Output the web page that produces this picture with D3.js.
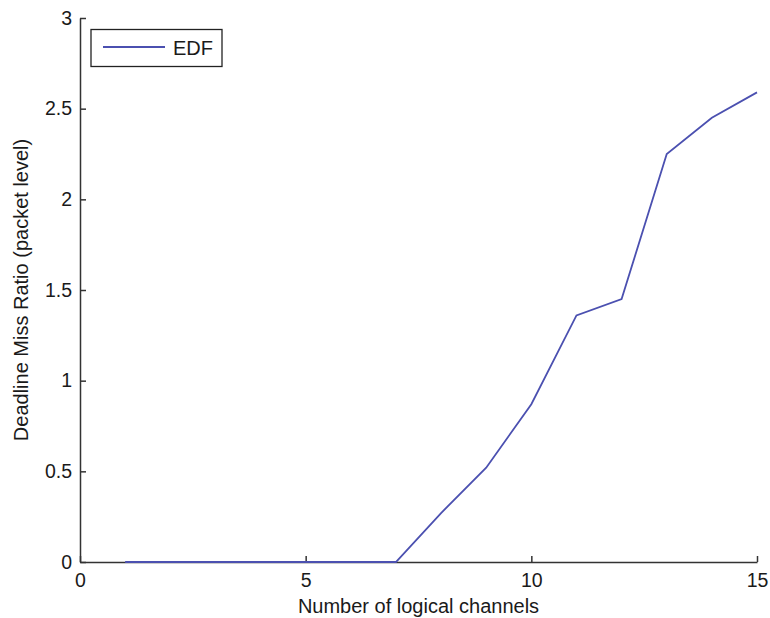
<!DOCTYPE html>
<html>
<head>
<meta charset="utf-8">
<script src="https://cdn.jsdelivr.net/npm/d3@7/dist/d3.min.js"></script>
<style>
  body { margin: 0; background: #fff; }
  svg text { font-family: "Liberation Sans", Arial, sans-serif; fill: #1a1a1a; }
</style>
</head>
<body>
<div class="visHolder"></div>
<script>
var channels = [1, 2, 3, 4, 5, 6, 7, 8, 9, 10, 11, 12, 13, 14, 15];
var missRatio = [0, 0, 0, 0, 0, 0, 0, 0.27, 0.52, 0.87, 1.36, 1.45, 2.25, 2.45, 2.59];
var xTicks = [0, 5, 10, 15];
var yTicks = [0, 0.5, 1, 1.5, 2, 2.5, 3];
var seriesName = "EDF";

var width = 770,
    height = 618,
    plotLeft = 80,
    plotRight = 757,
    plotTop = 18,
    plotBottom = 562;

var svg = d3.select(".visHolder")
    .append("svg")
    .attr("width", width)
    .attr("height", height);

var xScale = d3.scaleLinear().domain([0, 15]).range([plotLeft, plotRight]);
var yScale = d3.scaleLinear().domain([0, 3]).range([plotBottom, plotTop]);

var xAxis = d3.axisBottom(xScale)
    .tickValues(xTicks)
    .tickFormat(d3.format("d"))
    .tickSizeInner(-6)
    .tickSizeOuter(0)
    .tickPadding(14);

var yAxis = d3.axisLeft(yScale)
    .tickValues(yTicks)
    .tickFormat(function (d) { return String(d); })
    .tickSizeInner(-6)
    .tickSizeOuter(0)
    .tickPadding(14);

var gx = svg.append("g")
    .attr("transform", "translate(0," + plotBottom + ")")
    .call(xAxis);

var gy = svg.append("g")
    .attr("transform", "translate(" + plotLeft + ",0)")
    .call(yAxis);

[gx, gy].forEach(function (g) {
    g.select(".domain").attr("stroke", "#333").attr("stroke-width", 1.5);
    g.selectAll(".tick line").attr("stroke", "#333").attr("stroke-width", 1.5);
    g.selectAll(".tick text")
        .attr("font-family", "Liberation Sans, Arial, sans-serif")
        .attr("font-size", 19.5)
        .attr("fill", "#1a1a1a");
});
gy.selectAll(".tick text").attr("x", -8);
gx.selectAll(".tick text").attr("y", 11);

var line = d3.line()
    .x(function (d, i) { return xScale(channels[i]); })
    .y(function (d) { return yScale(d); });

svg.append("path")
    .datum(missRatio)
    .attr("d", line)
    .attr("fill", "none")
    .attr("stroke", "#4b50b0")
    .attr("stroke-width", 1.8);

svg.append("text")
    .attr("x", (plotLeft + plotRight) / 2)
    .attr("y", 613)
    .attr("text-anchor", "middle")
    .attr("font-size", 20)
    .text("Number of logical channels");

svg.append("text")
    .attr("transform", "translate(28," + ((plotTop + plotBottom) / 2) + ") rotate(-90)")
    .attr("text-anchor", "middle")
    .attr("font-size", 20)
    .text("Deadline Miss Ratio (packet level)");

// legend
var legend = svg.append("g");
legend.append("rect")
    .attr("x", 91)
    .attr("y", 29.5)
    .attr("width", 131)
    .attr("height", 37)
    .attr("fill", "#fff")
    .attr("stroke", "#222")
    .attr("stroke-width", 1.3);
legend.append("line")
    .attr("x1", 103).attr("x2", 165)
    .attr("y1", 47).attr("y2", 47)
    .attr("stroke", "#4b50b0")
    .attr("stroke-width", 1.8);
legend.append("text")
    .attr("x", 173)
    .attr("y", 55)
    .attr("font-size", 20)
    .text(seriesName);
</script>
</body>
</html>
